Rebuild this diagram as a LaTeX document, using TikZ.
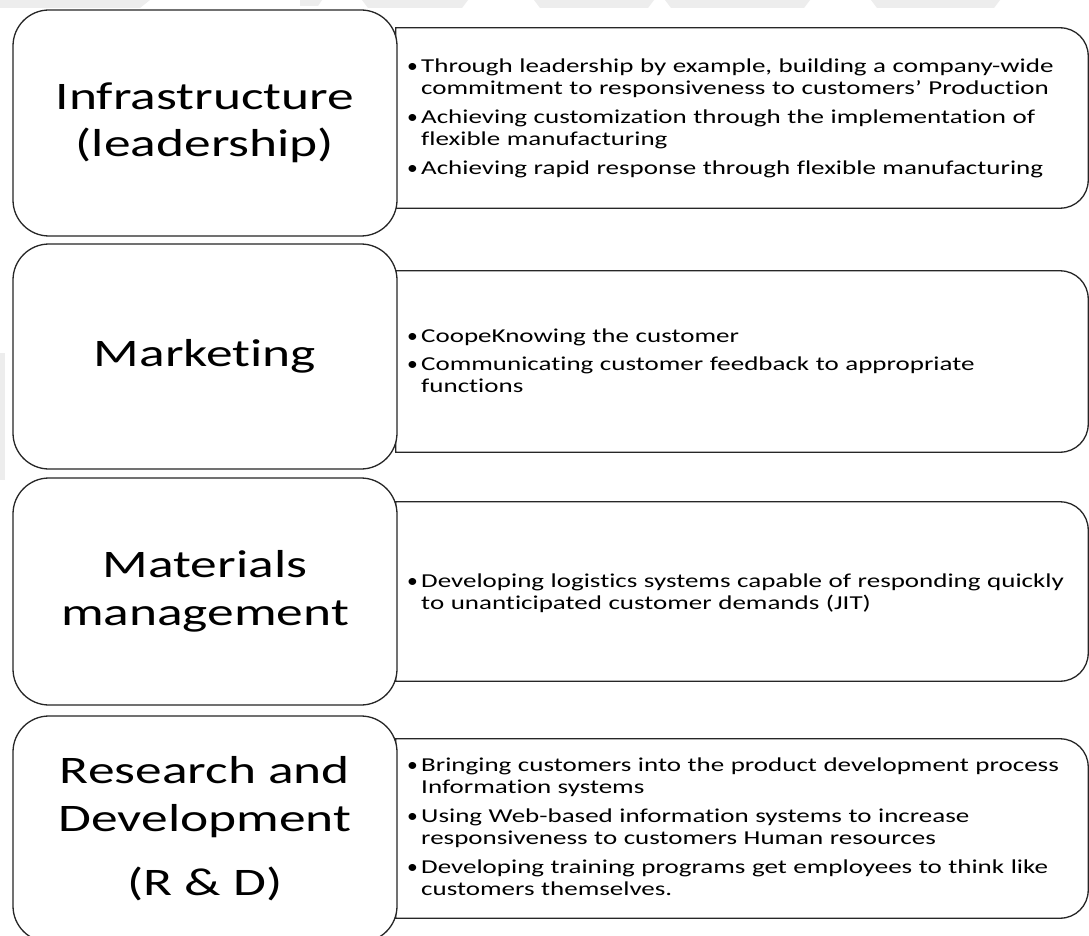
\documentclass[tikz,border=0pt]{standalone}
\usepackage{fontspec}
\setmainfont{Carlito}[FakeStretch=1.37,Ligatures=NoCommon]
\newcommand\bitem[1]{\noindent\makebox[8pt][l]{\hspace{-6pt}\scalebox{0.8}[1]{•}}\parbox[t]{660pt}{\raggedright\strut #1\strut}}
\newcommand\igap{\par\vspace{5.5pt}}
\newcommand\rpath[1]{\draw[rboxline] (#1.south west) -- (#1.north west) -- ([xshift=-28pt]#1.north east) arc[start angle=90,end angle=0,radius=28pt] -- ([yshift=28pt]#1.south east) arc[start angle=0,end angle=-90,radius=28pt] -- cycle;}
\begin{document}
\begin{tikzpicture}[x=1pt,y=-1pt,
  leftbox/.style={draw=black!85, line width=1.3pt, fill=white, rounded corners=36pt,
    minimum width=384pt, minimum height=226pt, align=center, inner sep=0pt,
    font=\fontsize{39}{47.5}\selectfont},
  rightbox/.style={minimum width=692pt, inner sep=0pt},
  rboxline/.style={draw=black!85, line width=1.3pt},
  wmark/.style={fill=black!7, draw=none},
  itemtext/.style={anchor=west, text width=672pt, inner sep=0pt,
    font=\fontsize{19.7}{22.3}\selectfont}]
\useasboundingbox (0,0) rectangle (1089,936);
\fill[white] (0,0) rectangle (1089,936);
% faint background marks
\fill[wmark] (0,0) -- (150,0) -- (140,8) -- (0,8) -- cycle;
\fill[wmark] (300,0) -- (322,0) -- (318,6) -- (300,6) -- cycle;
\fill[wmark] (362,0) -- (468,0) -- (462,8) -- (368,8) -- cycle;
\fill[wmark] (534,0) -- (654,0) -- (648,8) -- (540,8) -- cycle;
\fill[wmark] (665,0) -- (810,0) -- (804,8) -- (671,8) -- cycle;
\fill[wmark] (871,0) -- (1000,0) -- (994,8) -- (877,8) -- cycle;
\fill[wmark] (0,353) rectangle (5,480);
% right boxes
\node[rightbox, minimum height=180pt] (r1) at (742,118) {};
\node[rightbox, minimum height=181pt] (r2) at (742,361.5) {};
\node[rightbox, minimum height=179pt] (r3) at (742,591.5) {};
\node[rightbox, minimum height=179pt] (r4) at (742,828.5) {};
\rpath{r1}
\rpath{r2}
\rpath{r3}
\rpath{r4}
% left boxes
\node[leftbox] (l1) at (205,123) {Infrastructure\\(leadership)};
\node[leftbox, minimum height=225pt] (l2) at (205,356.5) {Marketing};
\node[leftbox, minimum height=227pt] (l3) at (205,591.5) {Materials\\management};
\node[leftbox] (l4) at (205,829) {Research and\\Development\\[17pt](R \& D)};
% texts
\node[itemtext] (t1) at (413,119) {%
\bitem{Through leadership by example, building a company-wide\\commitment to responsiveness to customers’ Production}\igap
\bitem{Achieving customization through the implementation of\\flexible manufacturing}\igap
\bitem{Achieving rapid response through flexible manufacturing}};
\node[itemtext] (t2) at (413,363) {%
\bitem{CoopeKnowing the customer}\igap
\bitem{Communicating customer feedback to appropriate\\functions}};
\node[itemtext] (t3) at (413,594) {%
\bitem{Developing logistics systems capable of responding quickly\\to unanticipated customer demands (JIT)}};
\node[itemtext] (t4) at (413,829) {%
\bitem{Bringing customers into the product development process\\Information systems}\igap
\bitem{Using Web-based information systems to increase\\responsiveness to customers Human resources}\igap
\bitem{Developing training programs get employees to think like\\customers themselves.}};
\end{tikzpicture}
\end{document}
